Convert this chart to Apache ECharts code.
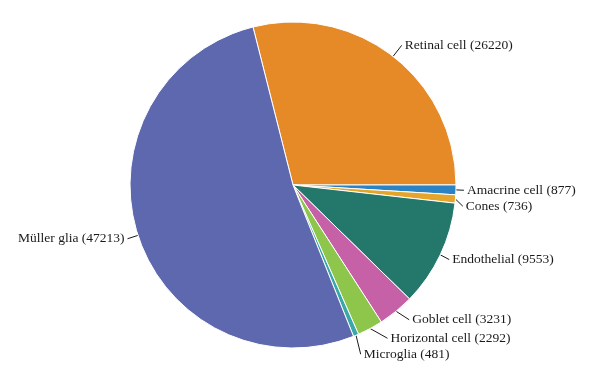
<!DOCTYPE html>
<html><head><meta charset="utf-8">
<script src="https://cdn.jsdelivr.net/npm/echarts@6/dist/echarts.min.js"></script>
<style>html,body{margin:0;padding:0;background:#fff}#c{width:600px;height:385px}</style>
</head><body><div id="c"></div>
<script>
var categories = ['Retinal cell','Amacrine cell','Cones','Endothelial','Goblet cell','Horizontal cell','Microglia','Müller glia'];
var values = [26220, 877, 736, 9553, 3231, 2292, 481, 47213];
var colors = ['#E58A27','#2B83C3','#E5A52A','#24786B','#C660A7','#8DC64A','#3AA7A8','#5E68AE'];
var lineLengths = [14, 11, 11, 11, 11, 11, 12, 11];
var chart = echarts.init(document.getElementById('c'));
var data = categories.map(function(n,i){
  return {name:n, value:values[i], itemStyle:{color:colors[i]}, labelLine:{length:lineLengths[i]}};
});
chart.setOption({
  animation:false,
  series:[{
    type:'pie',
    center:[293,185],
    radius:[0,163],
    startAngle:104.2,
    clockwise:true,
    data:data,
    itemStyle:{borderColor:'#fff',borderWidth:1},
    label:{formatter:'{b} ({c})', fontFamily:'Liberation Serif', fontSize:13.5, color:'#1a1a1a', distanceToLabelLine:3},
    labelLine:{length:11,length2:0,lineStyle:{color:'#1a1a1a',width:1}}
  }]
});
</script></body></html>
